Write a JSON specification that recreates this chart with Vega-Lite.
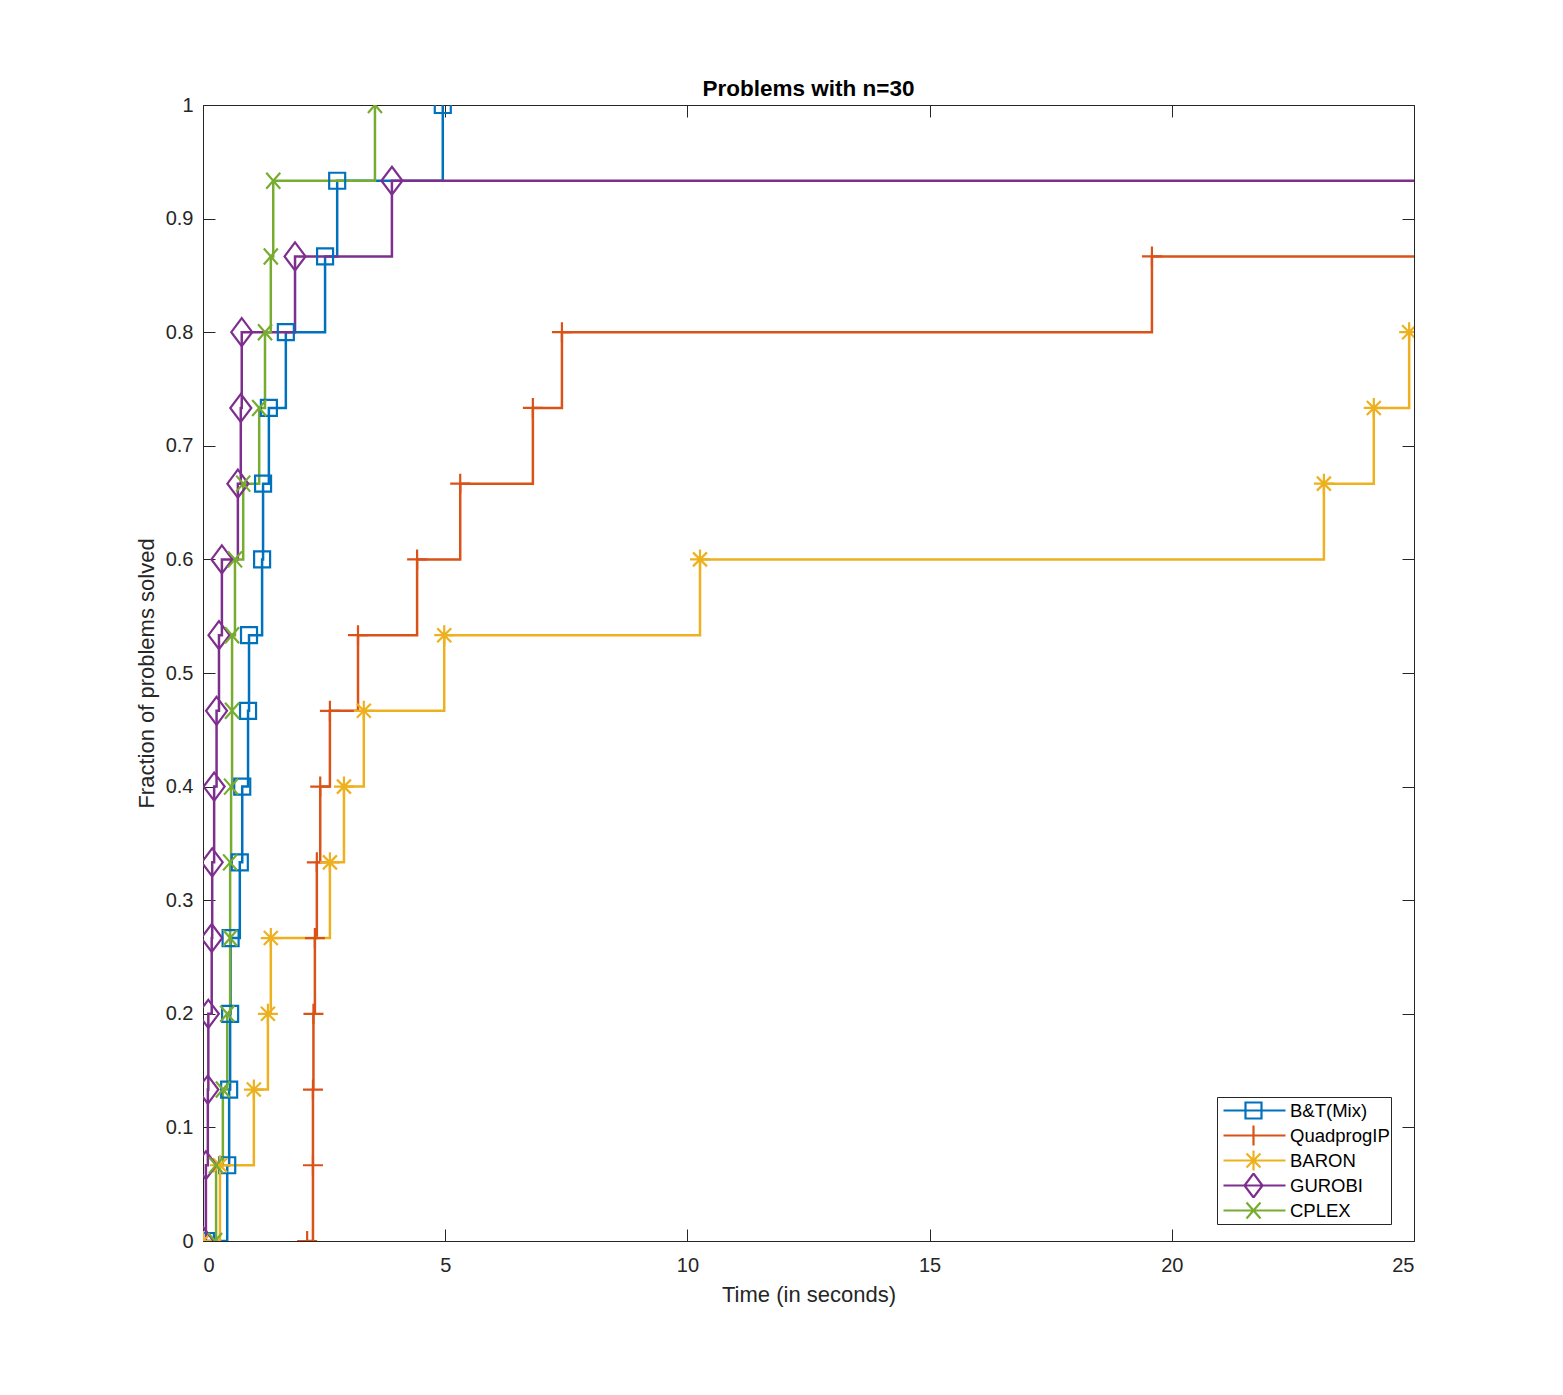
{
  "$schema": "https://vega.github.io/schema/vega-lite/v6.json",
  "width": 1211,
  "height": 1136,
  "autosize": {"type": "none"},
  "padding": {"left": 203, "top": 105, "right": 149, "bottom": 154},
  "background": "white",
  "title": {"text": "Problems with n=30", "fontSize": 22.5, "fontWeight": "bold", "font": "Liberation Sans", "color": "#000000", "anchor": "middle", "offset": -5},
  "config": {
    "view": {"stroke": null},
    "font": "Liberation Sans",
    "axis": {"grid": false, "domainColor": "#262626", "tickColor": "#262626", "labelColor": "#262626", "titleColor": "#262626", "labelFont": "Liberation Sans", "titleFont": "Liberation Sans", "labelFontSize": 20, "titleFontSize": 22, "titleFontWeight": "normal", "labelFontWeight": "normal", "tickSize": -12, "domainWidth": 1, "tickWidth": 1}
  },
  "data": {
    "values": [
      {"solver": "B&T(Mix)", "time": 0.06, "frac": 0},
      {"solver": "B&T(Mix)", "time": 0.50, "frac": 0.0667},
      {"solver": "B&T(Mix)", "time": 0.54, "frac": 0.1333},
      {"solver": "B&T(Mix)", "time": 0.56, "frac": 0.2},
      {"solver": "B&T(Mix)", "time": 0.57, "frac": 0.2667},
      {"solver": "B&T(Mix)", "time": 0.76, "frac": 0.3333},
      {"solver": "B&T(Mix)", "time": 0.81, "frac": 0.4},
      {"solver": "B&T(Mix)", "time": 0.93, "frac": 0.4667},
      {"solver": "B&T(Mix)", "time": 0.95, "frac": 0.5333},
      {"solver": "B&T(Mix)", "time": 1.22, "frac": 0.6},
      {"solver": "B&T(Mix)", "time": 1.24, "frac": 0.6667},
      {"solver": "B&T(Mix)", "time": 1.36, "frac": 0.7333},
      {"solver": "B&T(Mix)", "time": 1.71, "frac": 0.8},
      {"solver": "B&T(Mix)", "time": 2.52, "frac": 0.8667},
      {"solver": "B&T(Mix)", "time": 2.77, "frac": 0.9333},
      {"solver": "B&T(Mix)", "time": 4.95, "frac": 1},
      {"solver": "QuadprogIP", "time": 2.15, "frac": 0},
      {"solver": "QuadprogIP", "time": 2.27, "frac": 0.0667},
      {"solver": "QuadprogIP", "time": 2.27, "frac": 0.1333},
      {"solver": "QuadprogIP", "time": 2.28, "frac": 0.2},
      {"solver": "QuadprogIP", "time": 2.31, "frac": 0.2667},
      {"solver": "QuadprogIP", "time": 2.35, "frac": 0.3333},
      {"solver": "QuadprogIP", "time": 2.42, "frac": 0.4},
      {"solver": "QuadprogIP", "time": 2.62, "frac": 0.4667},
      {"solver": "QuadprogIP", "time": 3.20, "frac": 0.5333},
      {"solver": "QuadprogIP", "time": 4.42, "frac": 0.6},
      {"solver": "QuadprogIP", "time": 5.31, "frac": 0.6667},
      {"solver": "QuadprogIP", "time": 6.81, "frac": 0.7333},
      {"solver": "QuadprogIP", "time": 7.41, "frac": 0.8},
      {"solver": "QuadprogIP", "time": 19.59, "frac": 0.8667},
      {"solver": "QuadprogIP", "time": 26, "frac": 0.8667},
      {"solver": "BARON", "time": 0.0, "frac": 0},
      {"solver": "BARON", "time": 0.35, "frac": 0.0667},
      {"solver": "BARON", "time": 1.05, "frac": 0.1333},
      {"solver": "BARON", "time": 1.34, "frac": 0.2},
      {"solver": "BARON", "time": 1.40, "frac": 0.2667},
      {"solver": "BARON", "time": 2.62, "frac": 0.3333},
      {"solver": "BARON", "time": 2.91, "frac": 0.4},
      {"solver": "BARON", "time": 3.32, "frac": 0.4667},
      {"solver": "BARON", "time": 4.98, "frac": 0.5333},
      {"solver": "BARON", "time": 10.26, "frac": 0.6},
      {"solver": "BARON", "time": 23.14, "frac": 0.6667},
      {"solver": "BARON", "time": 24.17, "frac": 0.7333},
      {"solver": "BARON", "time": 24.90, "frac": 0.8},
      {"solver": "GUROBI", "time": 0.0, "frac": 0},
      {"solver": "GUROBI", "time": 0.06, "frac": 0.0667},
      {"solver": "GUROBI", "time": 0.10, "frac": 0.1333},
      {"solver": "GUROBI", "time": 0.11, "frac": 0.2},
      {"solver": "GUROBI", "time": 0.18, "frac": 0.2667},
      {"solver": "GUROBI", "time": 0.19, "frac": 0.3333},
      {"solver": "GUROBI", "time": 0.23, "frac": 0.4},
      {"solver": "GUROBI", "time": 0.28, "frac": 0.4667},
      {"solver": "GUROBI", "time": 0.33, "frac": 0.5333},
      {"solver": "GUROBI", "time": 0.39, "frac": 0.6},
      {"solver": "GUROBI", "time": 0.72, "frac": 0.6667},
      {"solver": "GUROBI", "time": 0.78, "frac": 0.7333},
      {"solver": "GUROBI", "time": 0.80, "frac": 0.8},
      {"solver": "GUROBI", "time": 1.90, "frac": 0.8667},
      {"solver": "GUROBI", "time": 3.90, "frac": 0.9333},
      {"solver": "GUROBI", "time": 26, "frac": 0.9333},
      {"solver": "CPLEX", "time": 0.25, "frac": 0},
      {"solver": "CPLEX", "time": 0.27, "frac": 0.0667},
      {"solver": "CPLEX", "time": 0.41, "frac": 0.1333},
      {"solver": "CPLEX", "time": 0.50, "frac": 0.2},
      {"solver": "CPLEX", "time": 0.56, "frac": 0.2667},
      {"solver": "CPLEX", "time": 0.56, "frac": 0.3333},
      {"solver": "CPLEX", "time": 0.58, "frac": 0.4},
      {"solver": "CPLEX", "time": 0.60, "frac": 0.4667},
      {"solver": "CPLEX", "time": 0.60, "frac": 0.5333},
      {"solver": "CPLEX", "time": 0.66, "frac": 0.6},
      {"solver": "CPLEX", "time": 0.83, "frac": 0.6667},
      {"solver": "CPLEX", "time": 1.16, "frac": 0.7333},
      {"solver": "CPLEX", "time": 1.28, "frac": 0.8},
      {"solver": "CPLEX", "time": 1.40, "frac": 0.8667},
      {"solver": "CPLEX", "time": 1.45, "frac": 0.9333},
      {"solver": "CPLEX", "time": 3.55, "frac": 1}
    ]
  },
  "encoding": {
    "x": {"field": "time", "type": "quantitative", "scale": {"domain": [0, 25], "nice": false, "zero": false}, "axis": null},
    "y": {"field": "frac", "type": "quantitative", "scale": {"domain": [0, 1], "nice": false}, "axis": null},
    "color": {
      "field": "solver", "type": "nominal",
      "scale": {"domain": ["B&T(Mix)", "QuadprogIP", "BARON", "GUROBI", "CPLEX"], "range": ["#0072BD", "#D95319", "#EDB120", "#7E2F8E", "#77AC30"]},
      "legend": {
        "title": null, "orient": "none", "legendX": 1014, "legendY": 992,
        "fillColor": "white", "strokeColor": "#262626", "padding": 1, "cornerRadius": 0,
        "labelFont": "Liberation Sans", "labelFontSize": 18.5, "labelColor": "#000000",
        "symbolSize": 400, "symbolStrokeWidth": 2.2, "labelOffset": 49, "rowPadding": 0, "clipHeight": 25,
        "encode": {
          "symbols": {
            "update": {
              "shape": {"signal": "datum.value === 'B&T(Mix)' ? 'M-0.6,0H5.6M1.6,-0.8H3.2V0.8H1.6Z' : datum.value === 'QuadprogIP' ? 'M-0.6,0H5.6M2.4,-1V1' : datum.value === 'BARON' ? 'M-0.6,0H5.6M2.4,-1V1M1.7,-0.7L3.1,0.7M1.7,0.7L3.1,-0.7' : datum.value === 'GUROBI' ? 'M-0.6,0H5.6M2.4,-1.2L3.3,0L2.4,1.2L1.5,0Z' : 'M-0.6,0H5.6M1.7,-0.8L3.1,0.8M1.7,0.8L3.1,-0.8'"},
              "fill": {"value": "transparent"},
              "strokeWidth": {"value": 2.2}
            }
          }
        }
      }
    }
  },
  "layer": [
    {
      "mark": {"type": "line", "interpolate": "step-after", "strokeWidth": 2.5, "clip": true},
      "encoding": {
        "x": {"field": "time", "type": "quantitative", "scale": {"domain": [0, 25], "nice": false, "zero": false},
              "axis": {"orient": "bottom", "values": [0, 5, 10, 15, 20, 25], "format": "~g", "title": "Time (in seconds)", "labelPadding": 26, "titlePadding": 9}},
        "y": {"field": "frac", "type": "quantitative", "scale": {"domain": [0, 1], "nice": false},
              "axis": {"orient": "left", "values": [0, 0.1, 0.2, 0.3, 0.4, 0.5, 0.6, 0.7, 0.8, 0.9, 1], "format": "~g", "title": "Fraction of problems solved", "labelPadding": 22, "titlePadding": 7}},
        "order": [{"field": "frac", "type": "quantitative"}, {"field": "time", "type": "quantitative"}]
      }
    },
    {
      "transform": [{"filter": "datum.solver === 'B&T(Mix)'"}],
      "mark": {"type": "point", "filled": false, "strokeWidth": 2.2, "size": 400, "clip": true, "opacity": 1, "shape": "M-0.8,-0.8H0.8V0.8H-0.8Z"}
    },
    {
      "transform": [{"filter": "datum.solver === 'QuadprogIP'"}],
      "mark": {"type": "point", "filled": false, "strokeWidth": 2.2, "size": 400, "clip": true, "opacity": 1, "shape": "M-1,0H1M0,-1V1"}
    },
    {
      "transform": [{"filter": "datum.solver === 'BARON'"}],
      "mark": {"type": "point", "filled": false, "strokeWidth": 2.2, "size": 400, "clip": true, "opacity": 1, "shape": "M-1,0H1M0,-1V1M-0.7,-0.7L0.7,0.7M-0.7,0.7L0.7,-0.7"}
    },
    {
      "transform": [{"filter": "datum.solver === 'GUROBI'"}],
      "mark": {"type": "point", "filled": false, "strokeWidth": 2.2, "size": 400, "clip": true, "opacity": 1, "shape": "M0,-1.4L1.05,0L0,1.4L-1.05,0Z"}
    },
    {
      "transform": [{"filter": "datum.solver === 'CPLEX'"}],
      "mark": {"type": "point", "filled": false, "strokeWidth": 2.2, "size": 400, "clip": true, "opacity": 1, "shape": "M-0.7,-0.8L0.7,0.8M-0.7,0.8L0.7,-0.8"},
      "encoding": {
        "x": {"field": "time", "type": "quantitative", "scale": {"domain": [0, 25], "nice": false, "zero": false},
              "axis": {"orient": "top", "values": [0, 5, 10, 15, 20, 25], "labels": false, "title": null}},
        "y": {"field": "frac", "type": "quantitative", "scale": {"domain": [0, 1], "nice": false},
              "axis": {"orient": "right", "values": [0, 0.1, 0.2, 0.3, 0.4, 0.5, 0.6, 0.7, 0.8, 0.9, 1], "labels": false, "title": null}}
      }
    }
  ]
}
